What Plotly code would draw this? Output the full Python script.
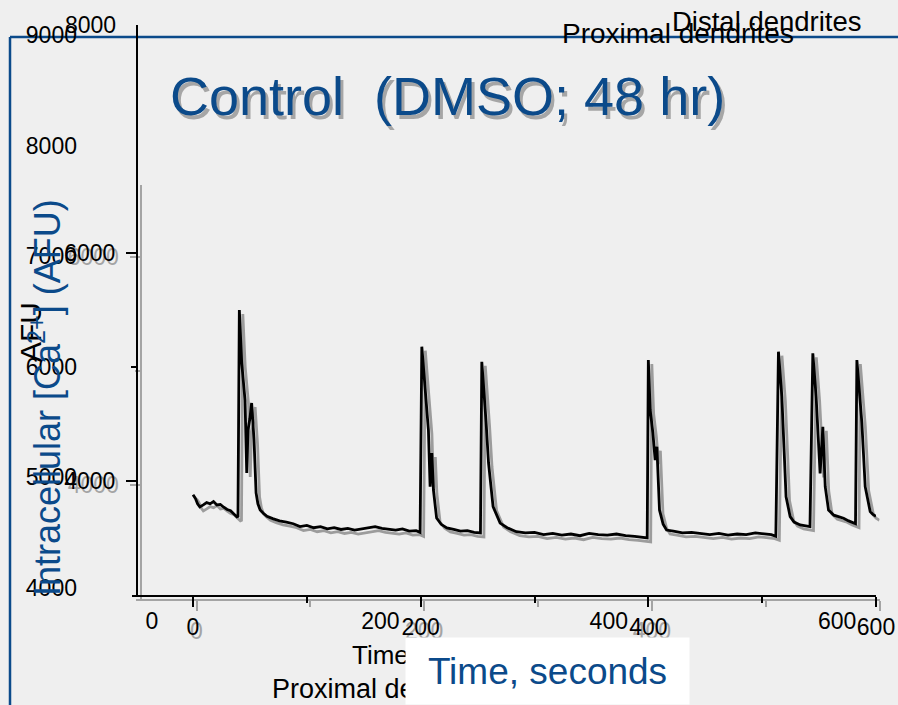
import plotly.graph_objects as go

W, H = 898, 705
def fx(px): return px / W
def fy(py): return 1 - py / H

# ---- data ----
time_s = [0, 2, 4, 6, 9, 12, 15, 18, 21, 24, 27, 30, 33, 36, 38.5, 39.5,
          40.7, 42.8, 45.7, 47.2, 48.3, 50, 51.5, 53.6, 55.4, 57, 59, 61.5, 65, 70,
          76, 82, 88, 94, 100, 106, 112, 118, 124, 130, 136, 142, 148, 154, 160,
          166, 172, 178, 184, 190, 196, 199.5,
          201, 203.9, 206.8, 208.3, 209.8, 211.2, 214, 218, 223, 229, 235, 241, 247, 252.5,
          253.7, 257.5, 259.6, 263.6, 269.8, 276, 284, 292, 300, 308, 316, 324, 332,
          340, 348, 356, 364, 372, 380, 388, 396, 399,
          400, 401.6, 404, 406, 407.5, 409.8, 413, 416, 422, 430, 438, 446, 454,
          462, 470, 478, 486, 494, 502, 508, 512,
          514.3, 517.3, 519.3, 521, 524.6, 528, 533.4, 538, 542,
          544.5, 547.4, 550.9, 553.3, 555.4, 558.3, 563, 567, 571.5, 576, 580.3, 582,
          583.2, 584.6, 587.6, 590.5, 594.9, 597, 600]
afu = [3880, 3850, 3800, 3772, 3790, 3810, 3800, 3820, 3790, 3795, 3770, 3750, 3740, 3710, 3685, 3690,
       5500, 5035, 4710, 4070, 4447, 4550, 4684, 4360, 3895, 3800, 3746, 3719, 3690, 3670,
       3650, 3640, 3625, 3600, 3610, 3590, 3600, 3580, 3590, 3575, 3585, 3570, 3580, 3590, 3600,
       3585, 3575, 3570, 3580, 3560, 3565, 3550,
       5178, 4827, 4447, 3950, 4245, 3921, 3675, 3620, 3588, 3575, 3560, 3565, 3550, 3545,
       5046, 4509, 4158, 3775, 3631, 3590, 3555, 3545, 3550, 3530, 3540, 3525, 3535,
       3520, 3540, 3530, 3525, 3535, 3520, 3515, 3505, 3500,
       5061, 4623, 4421, 4184, 4301, 3746, 3620, 3570, 3560, 3545, 3550, 3540, 3530,
       3540, 3525, 3535, 3530, 3545, 3540, 3530, 3515,
       5134, 4739, 4213, 3862, 3687, 3640, 3614, 3605, 3600,
       5120, 4739, 4067, 4476, 3950, 3746, 3700, 3690, 3673, 3650, 3629, 3625,
       5061, 4860, 4509, 3950, 3731, 3710, 3690]

x_ticks = [0, 200, 400, 600]
x_tick_text = ["0", "200", "400", "600"]
x_minor = [100, 300, 500]
y_ticks_main = [4000, 6000]
y_tick_text_main = ["4000", "6000"]
y_minor_main = [5000]
y_ticks_old = [4000, 5000, 6000, 7000, 8000, 9000]
y_tick_text_old = ["4000", "5000", "6000", "7000", "8000", "9000"]

BLUE = "#0b4a8a"
GRAY = "#a4a4a4"
FONT = "Liberation Sans, Arial, sans-serif"
TF = 23

fig = go.Figure()
# shadow (gray) copy
fig.add_trace(go.Scatter(x=time_s, y=afu, mode="lines", line=dict(color="#9c9c9c", width=2.8),
                         xaxis="x", yaxis="y", hoverinfo="skip"))
# main black trace
fig.add_trace(go.Scatter(x=time_s, y=afu, mode="lines", line=dict(color="black", width=2.8),
                         xaxis="x2", yaxis="y2", hoverinfo="skip"))
# underlying layer (labels only)
fig.add_trace(go.Scatter(x=[0], y=[4000], mode="markers", marker=dict(opacity=0),
                         xaxis="x3", yaxis="y3", hoverinfo="skip"))

def axstyle(color, tv, tt, minor_vals, ticklen, minorlen, standoff):
    return dict(showline=True, linecolor=color, linewidth=2, ticks="outside", tickcolor=color,
                tickwidth=2, ticklen=ticklen, tickvals=tv, ticktext=tt,
                ticklabelstandoff=standoff,
                minor=dict(tickvals=minor_vals, ticks="outside", ticklen=minorlen, tickcolor=color, tickwidth=2),
                tickfont=dict(color=color, size=TF, family=FONT),
                showgrid=False, zeroline=False, automargin=False, fixedrange=True)

fig.update_layout(
    width=W, height=H, autosize=False,
    margin=dict(l=0, r=0, t=0, b=0, pad=0),
    paper_bgcolor="#efefef", plot_bgcolor="rgba(0,0,0,0)", showlegend=False,
    font=dict(family=FONT, color="black", size=22),
    xaxis=dict(domain=[fx(135.5), fx(879.5)], range=[-53.6, 600], anchor="y",
               **axstyle(GRAY, x_ticks, x_tick_text, x_minor, 10, 6, 0)),
    yaxis=dict(domain=[fy(599), fy(185)], range=[3000, 6631.6], anchor="free", position=fx(140.5),
               **axstyle(GRAY, y_ticks_main, y_tick_text_main, y_minor_main, 10, 5, 6)),
    xaxis2=dict(domain=[fx(132), fx(876)], range=[-53.6, 600], anchor="y2",
                **axstyle("black", x_ticks, x_tick_text, x_minor, 10, 6, 0)),
    yaxis2=dict(domain=[fy(595), fy(25)], range=[3000, 8000], anchor="free", position=fx(137),
                **axstyle("black", y_ticks_main, y_tick_text_main, y_minor_main, 10, 5, 6)),
    xaxis3=dict(domain=[fx(78), fx(838)], range=[-64.8, 600.7], anchor="y3", showline=False,
                ticks="", tickvals=x_ticks, ticktext=x_tick_text, showgrid=False, zeroline=False,
                tickfont=dict(color="black", size=TF, family=FONT), automargin=False, fixedrange=True),
    yaxis3=dict(domain=[fy(605), fy(30)], range=[3846.3, 9045.2], anchor="x3", showline=False,
                ticks="", tickvals=y_ticks_old, ticktext=y_tick_text_old, showgrid=False, zeroline=False,
                tickfont=dict(color="black", size=TF, family=FONT), automargin=False, fixedrange=True),
)

fig.add_shape(type="line", xref="paper", yref="paper", x0=fx(10), x1=fx(10), y0=fy(37), y1=0,
              line=dict(color=BLUE, width=2.5), layer="below")
fig.add_shape(type="line", xref="paper", yref="paper", x0=fx(10), x1=1, y0=fy(37), y1=fy(37),
              line=dict(color=BLUE, width=2.5), layer="below")

def ann(text, x, y, size, color="black", xanchor="center", yanchor="middle", **kw):
    fig.add_annotation(text=text, x=x, y=y, xref="paper", yref="paper", showarrow=False,
                       xanchor=xanchor, yanchor=yanchor,
                       font=dict(size=size, color=color, family=FONT), **kw)

fig.add_annotation(text="8000", x=fx(118), y=8000, xref="paper", yref="y2", showarrow=False,
                   xanchor="right", yanchor="middle", font=dict(size=TF, color="black", family=FONT))
ann("AFU", fx(30), fy(332), 30, textangle=-90)
ann("Intracellular [Ca<sup>2+</sup>] (AFU)", fx(45), fy(398), 36, color=BLUE, textangle=-90)
ann("Control\u00a0\u00a0(DMSO; 48 hr)", fx(451), fy(100), 54, color="#a6a6a6")
ann("Control\u00a0\u00a0(DMSO; 48 hr)", fx(447), fy(96), 54, color=BLUE)
ann("Proximal dendrites", fx(678), fy(34), 28)
ann("Distal dendrites", fx(767), fy(21), 27.5)
ann("Time (s)", fx(350), fy(655), 26, xanchor="left")
ann("Proximal dendrites", fx(270), fy(689), 27, xanchor="left")
ann("Time, seconds", fx(405), fy(637), 37, color=BLUE, xanchor="left", yanchor="top",
    width=283, height=66, bgcolor="white", borderpad=0)

fig.write_html("out.html", config={"displayModeBar": False},
               post_script="document.body.style.margin='0';document.body.style.overflow='hidden';")
